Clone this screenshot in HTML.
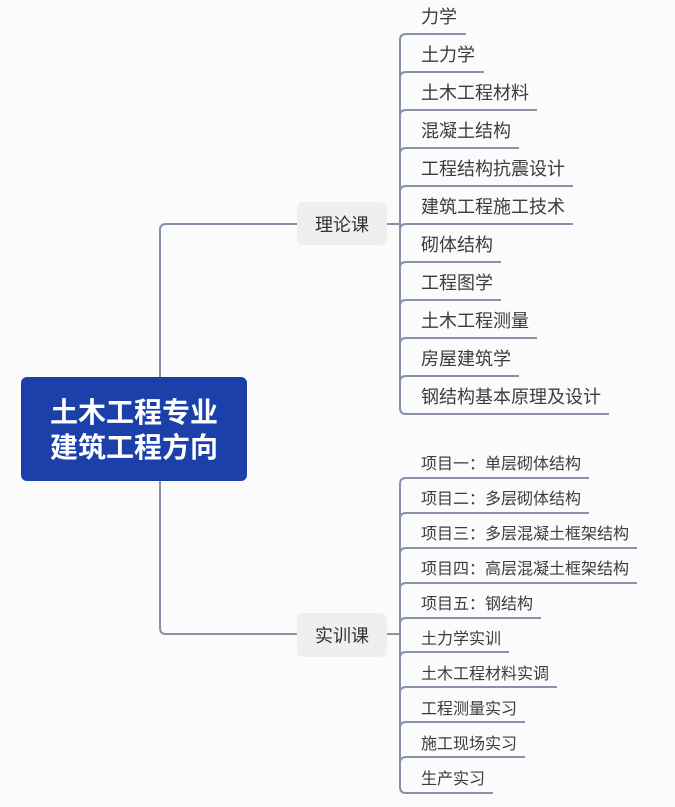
<!DOCTYPE html>
<html><head><meta charset="utf-8"><style>
html,body{margin:0;padding:0;background:#fbfbfb;}
svg{display:block;}
text{font-family:"Liberation Sans","Noto Sans CJK SC",sans-serif;}
</style></head><body>
<svg width="675" height="807" viewBox="0 0 675 807" xmlns="http://www.w3.org/2000/svg">
<g fill="none" stroke="#8892a6" stroke-width="2">
<path d="M160,378 V230 Q160,224 166,224 H297"/>
<path d="M160,481 V628 Q160,634 166,634 H297"/>
<path d="M387,224 H400"/>
<path d="M387,634 H400"/>
<path d="M400,40 V408"/>
<path d="M400,40 Q400,34 406,34 H466"/>
<path d="M400,78 Q400,72 406,72 H484"/>
<path d="M400,116 Q400,110 406,110 H537"/>
<path d="M400,154 Q400,148 406,148 H519"/>
<path d="M400,192 Q400,186 406,186 H573"/>
<path d="M400,230 Q400,224 406,224 H573"/>
<path d="M400,268 Q400,262 406,262 H501"/>
<path d="M400,306 Q400,300 406,300 H501"/>
<path d="M400,344 Q400,338 406,338 H537"/>
<path d="M400,382 Q400,376 406,376 H519"/>
<path d="M400,408 Q400,414 406,414 H609"/>
<path d="M400,484 V787"/>
<path d="M400,484 Q400,478 406,478 H589"/>
<path d="M400,519 Q400,513 406,513 H589"/>
<path d="M400,554 Q400,548 406,548 H637"/>
<path d="M400,589 Q400,583 406,583 H637"/>
<path d="M400,624 Q400,618 406,618 H541"/>
<path d="M400,658 Q400,652 406,652 H509"/>
<path d="M400,693 Q400,687 406,687 H557"/>
<path d="M400,728 Q400,722 406,722 H525"/>
<path d="M400,763 Q400,757 406,757 H525"/>
<path d="M400,787 Q400,793 406,793 H493"/>
</g>
<rect x="21" y="377" width="226" height="104" rx="6" fill="#1b40a9"/>
<text x="134" y="422" font-size="28" font-weight="bold" fill="#fff" text-anchor="middle">土木工程专业</text>
<text x="134" y="457" font-size="28" font-weight="bold" fill="#fff" text-anchor="middle">建筑工程方向</text>
<rect x="297" y="202" width="90" height="43" rx="6" fill="#efefef"/>
<text x="342" y="231" font-size="18" fill="#333" text-anchor="middle">理论课</text>
<rect x="297" y="613" width="90" height="44" rx="6" fill="#efefef"/>
<text x="342" y="642" font-size="18" fill="#333" text-anchor="middle">实训课</text>
<g font-size="18" fill="#3c3c3c">
<text x="421" y="23">力学</text>
<text x="421" y="61">土力学</text>
<text x="421" y="99">土木工程材料</text>
<text x="421" y="137">混凝土结构</text>
<text x="421" y="175">工程结构抗震设计</text>
<text x="421" y="213">建筑工程施工技术</text>
<text x="421" y="251">砌体结构</text>
<text x="421" y="289">工程图学</text>
<text x="421" y="327">土木工程测量</text>
<text x="421" y="365">房屋建筑学</text>
<text x="421" y="403">钢结构基本原理及设计</text>
</g>
<g font-size="16" fill="#3c3c3c">
<text x="421" y="469">项目一：单层砌体结构</text>
<text x="421" y="504">项目二：多层砌体结构</text>
<text x="421" y="539">项目三：多层混凝土框架结构</text>
<text x="421" y="574">项目四：高层混凝土框架结构</text>
<text x="421" y="609">项目五：钢结构</text>
<text x="421" y="644">土力学实训</text>
<text x="421" y="679">土木工程材料实调</text>
<text x="421" y="714">工程测量实习</text>
<text x="421" y="749">施工现场实习</text>
<text x="421" y="784">生产实习</text>
</g>
</svg>
</body></html>
